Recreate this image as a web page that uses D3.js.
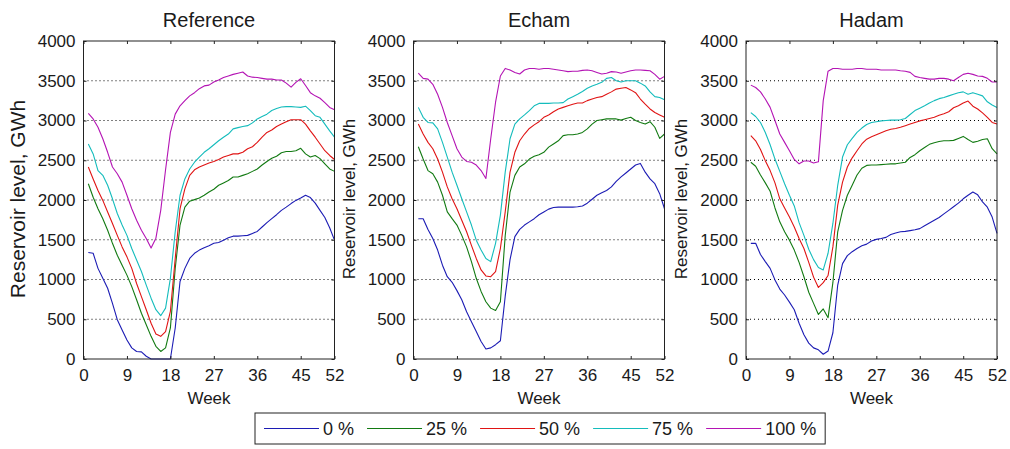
<!DOCTYPE html>
<html>
<head>
<meta charset="utf-8">
<script src="https://cdn.jsdelivr.net/npm/d3@7"></script>
<style>
  body { margin: 0; background: #fff; }
  text { font-family: "Liberation Sans", Arial, sans-serif; fill: #1a1a1a; }
</style>
</head>
<body>
<div id="chart"></div>
<script>
"use strict";

// weeks 1..52
const weeks = d3.range(1, 53);
const xTicks = [0, 9, 18, 27, 36, 45, 52];
const yTicks = [0, 500, 1000, 1500, 2000, 2500, 3000, 3500, 4000];
const gridValues = [500, 1000, 1500, 2000, 2500, 3000, 3500];
const panelTitles = ["Reference", "Echam", "Hadam"];
const seriesNames = ["0 %", "25 %", "50 %", "75 %", "100 %"];
const seriesColors = ["#1c1cb4", "#127a12", "#e01414", "#14bcbc", "#b414b4"];

// Reference
const refP0 = [1340, 1330, 1140, 1015, 890, 700, 495, 365, 240, 140,
  95, 90, 35, 0, 0, 0, 0, 0, 390, 975,
  1140, 1265, 1330, 1370, 1400, 1425, 1455, 1465, 1495, 1525,
  1545, 1545, 1550, 1555, 1580, 1605, 1660, 1715, 1765, 1815,
  1870, 1910, 1955, 1995, 2025, 2060, 2030, 1960, 1870, 1780, 1650, 1495];
const refP25 = [2205, 2035, 1890, 1765, 1620, 1455, 1305, 1180, 1055, 910,
  745, 575, 430, 285, 160, 95, 140, 390, 1140, 1685,
  1910, 1985, 2005, 2025, 2060, 2100, 2135, 2185, 2215, 2245,
  2290, 2290, 2310, 2330, 2360, 2390, 2440, 2485, 2525, 2550,
  2595, 2610, 2610, 2620, 2650, 2580, 2540, 2560, 2520, 2455, 2390, 2360];
const refP50 = [2415, 2265, 2120, 1995, 1850, 1705, 1555, 1410, 1285, 1140,
  950, 785, 620, 450, 315, 285, 345, 600, 1265, 1890,
  2140, 2310, 2380, 2415, 2440, 2465, 2485, 2510, 2540, 2560,
  2580, 2580, 2600, 2645, 2670, 2725, 2790, 2850, 2880, 2925,
  2955, 2985, 3010, 3010, 3010, 2955, 2870, 2790, 2705, 2620, 2560, 2510];
const refP75 = [2705, 2580, 2370, 2310, 2185, 2015, 1830, 1685, 1555, 1390,
  1245, 1100, 930, 765, 620, 545, 640, 1015, 1600, 2060,
  2265, 2390, 2475, 2540, 2600, 2645, 2695, 2745, 2790, 2830,
  2895, 2910, 2925, 2935, 2970, 3020, 3050, 3080, 3125, 3150,
  3170, 3175, 3175, 3170, 3165, 3180, 3125, 3060, 3040, 2955, 2870, 2790];
const refP100 = [3090, 3020, 2915, 2770, 2600, 2415, 2330, 2225, 2060, 1890,
  1745, 1620, 1515, 1395, 1520, 1870, 2380, 2850, 3080, 3185,
  3250, 3310, 3350, 3400, 3435, 3445, 3485, 3510, 3540, 3560,
  3580, 3595, 3610, 3560, 3545, 3540, 3530, 3520, 3520, 3510,
  3510, 3470, 3420, 3480, 3525, 3440, 3350, 3310, 3280, 3225, 3165, 3135];

// Echam
const echP0 = [1765, 1765, 1630, 1515, 1370, 1180, 1035, 965, 860, 745,
  595, 470, 345, 220, 125, 140, 180, 230, 790, 1250,
  1540, 1630, 1685, 1725, 1765, 1815, 1850, 1885, 1905, 1910,
  1910, 1910, 1910, 1915, 1925, 1960, 2010, 2060, 2090, 2120,
  2165, 2235, 2290, 2340, 2390, 2440, 2460, 2350, 2265, 2205, 2080, 1890];
const echP25 = [2670, 2515, 2370, 2330, 2225, 2060, 1850, 1765, 1685, 1555,
  1410, 1225, 1015, 850, 720, 640, 610, 720, 1550, 2100,
  2310, 2415, 2455, 2515, 2550, 2570, 2600, 2665, 2705, 2745,
  2810, 2820, 2820, 2830, 2850, 2895, 2955, 3000, 3010, 3020,
  3020, 3020, 3005, 3025, 3040, 3000, 2975, 2955, 2985, 2915, 2775, 2830];
const echP50 = [2955, 2830, 2725, 2645, 2515, 2350, 2165, 2015, 1890, 1745,
  1600, 1430, 1265, 1120, 1045, 1035, 1100, 1390, 1850, 2350,
  2600, 2745, 2830, 2900, 2945, 2985, 3040, 3070, 3110, 3145,
  3165, 3185, 3205, 3220, 3220, 3250, 3270, 3290, 3300, 3330,
  3360, 3395, 3405, 3415, 3385, 3350, 3270, 3205, 3145, 3100, 3070, 3040];
const echP75 = [3165, 3040, 2975, 2970, 2895, 2725, 2540, 2350, 2185, 2015,
  1850, 1685, 1495, 1370, 1265, 1225, 1455, 1810, 2350, 2770,
  2955, 3020, 3070, 3125, 3185, 3215, 3215, 3215, 3220, 3220,
  3225, 3270, 3300, 3330, 3365, 3405, 3435, 3455, 3480, 3530,
  3540, 3500, 3485, 3500, 3500, 3500, 3470, 3435, 3360, 3300, 3290, 3260];
const echP100 = [3595, 3530, 3520, 3455, 3330, 3165, 2975, 2810, 2645, 2540,
  2485, 2475, 2440, 2370, 2270, 2770, 3230, 3560, 3655, 3635,
  3605, 3585, 3635, 3655, 3655, 3645, 3655, 3655, 3645, 3635,
  3625, 3615, 3620, 3620, 3630, 3635, 3625, 3605, 3585, 3595,
  3615, 3610, 3595, 3610, 3625, 3635, 3635, 3630, 3625, 3580, 3520, 3555];

// Hadam
const hadP0 = [1455, 1455, 1315, 1225, 1140, 995, 880, 805, 715, 620,
  450, 305, 200, 140, 115, 60, 100, 330, 930, 1200,
  1300, 1350, 1390, 1425, 1445, 1485, 1505, 1515, 1530, 1565,
  1585, 1600, 1605, 1615, 1625, 1640, 1675, 1710, 1745, 1780,
  1825, 1870, 1915, 1960, 2015, 2060, 2100, 2065, 1975, 1910, 1785, 1580];
const hadP25 = [2475, 2425, 2315, 2215, 2110, 1900, 1725, 1600, 1495, 1370,
  1215, 1035, 840, 700, 560, 630, 520, 960, 1600, 1870,
  2060, 2185, 2315, 2400, 2435, 2440, 2440, 2445, 2450, 2455,
  2455, 2465, 2475, 2535, 2570, 2620, 2660, 2700, 2720, 2735,
  2745, 2745, 2750, 2775, 2800, 2760, 2725, 2740, 2760, 2770, 2645, 2580];
const hadP50 = [2810, 2745, 2635, 2495, 2370, 2215, 2015, 1900, 1785, 1660,
  1515, 1390, 1215, 1030, 900, 960, 1050, 1410, 1935, 2225,
  2415, 2530, 2620, 2705, 2765, 2795, 2820, 2845, 2870, 2890,
  2900, 2915, 2935, 2955, 2975, 2995, 3010, 3025, 3040, 3065,
  3085, 3110, 3160, 3185, 3220, 3245, 3180, 3145, 3095, 3040, 2975, 2955];
const hadP75 = [3100, 3050, 2975, 2850, 2695, 2515, 2360, 2205, 2060, 1925,
  1715, 1555, 1380, 1250, 1150, 1120, 1330, 1705, 2185, 2540,
  2695, 2775, 2850, 2905, 2950, 2975, 2985, 2995, 3000, 3005,
  3005, 3010, 3025, 3075, 3125, 3155, 3185, 3220, 3250, 3275,
  3290, 3310, 3330, 3350, 3360, 3330, 3350, 3330, 3310, 3235, 3195, 3165];
const hadP100 = [3445, 3415, 3360, 3270, 3165, 3000, 2830, 2725, 2620, 2510,
  2455, 2490, 2490, 2465, 2480, 3250, 3620, 3655, 3655, 3645,
  3645, 3645, 3655, 3655, 3645, 3645, 3645, 3635, 3635, 3635,
  3635, 3625, 3620, 3605, 3555, 3540, 3530, 3520, 3520, 3530,
  3530, 3520, 3500, 3540, 3580, 3595, 3580, 3560, 3555, 3530, 3485, 3485];

const panelSeries = [
  [refP0, refP25, refP50, refP75, refP100],
  [echP0, echP25, echP50, echP75, echP100],
  [hadP0, hadP25, hadP50, hadP75, hadP100]
];

// layout
const svgWidth = 1010, svgHeight = 449;
const panelLeft = [83.5, 413.5, 746];
const panelWidth = 251;
const plotTop = 41, plotBottom = 359;
const yLabelSize = [21, 17, 17];
const fontSize = 17;

const svg = d3.select("#chart").append("svg")
  .attr("width", svgWidth)
  .attr("height", svgHeight);

svg.append("rect").attr("width", svgWidth).attr("height", svgHeight).attr("fill", "#fff");

const y = d3.scaleLinear().domain([0, 4000]).range([plotBottom, plotTop]);

panelSeries.forEach(function (series, p) {
  const x0 = panelLeft[p], x1 = x0 + panelWidth;
  const x = d3.scaleLinear().domain([0, 52]).range([x0, x1]);
  const g = svg.append("g");

  // dotted grid
  g.selectAll(".grid")
    .data(gridValues)
    .enter().append("line")
    .attr("x1", x0).attr("x2", x1)
    .attr("y1", d => y(d)).attr("y2", d => y(d))
    .attr("stroke", "#000")
    .attr("stroke-width", 1)
    .attr("stroke-dasharray", "1,3");

  // curves
  const line = d3.line()
    .x((d, i) => x(weeks[i]))
    .y(d => y(d));

  g.selectAll(".curve")
    .data(series)
    .enter().append("path")
    .attr("d", line)
    .attr("fill", "none")
    .attr("stroke", (d, i) => seriesColors[i])
    .attr("stroke-width", 1.1)
    .attr("stroke-linejoin", "round");

  // axes, ticks pointing inward
  const axL = g.append("g").attr("transform", "translate(" + x0 + ",0)")
    .call(d3.axisLeft(y).tickValues(yTicks).tickFormat(d3.format("d"))
      .tickSize(-3).tickPadding(8).tickSizeOuter(0));
  const axR = g.append("g").attr("transform", "translate(" + x1 + ",0)")
    .call(d3.axisRight(y).tickValues(yTicks).tickSize(-3).tickFormat("").tickSizeOuter(0));
  const axB = g.append("g").attr("transform", "translate(0," + plotBottom + ")")
    .call(d3.axisBottom(x).tickValues(xTicks).tickFormat(d3.format("d"))
      .tickSize(-3).tickPadding(10).tickSizeOuter(0));
  const axT = g.append("g").attr("transform", "translate(0," + plotTop + ")")
    .call(d3.axisTop(x).tickValues(xTicks).tickSize(-3).tickFormat("").tickSizeOuter(0));

  [axL, axR, axB, axT].forEach(function (a) {
    a.select(".domain").remove();
    a.selectAll("line").attr("stroke", "#222");
    a.selectAll("text")
      .attr("fill", "#1a1a1a")
      .style("font-size", fontSize + "px")
      .style("font-family", "'Liberation Sans', Arial, sans-serif");
  });

  // box
  g.append("rect")
    .attr("x", x0).attr("y", plotTop)
    .attr("width", panelWidth).attr("height", plotBottom - plotTop)
    .attr("fill", "none")
    .attr("stroke", "#222")
    .attr("stroke-width", 1);

  // title
  g.append("text")
    .attr("x", (x0 + x1) / 2).attr("y", 27)
    .attr("text-anchor", "middle")
    .style("font-size", "20px")
    .text(panelTitles[p]);

  // x label
  g.append("text")
    .attr("x", (x0 + x1) / 2).attr("y", 404)
    .attr("text-anchor", "middle")
    .style("font-size", fontSize + "px")
    .text("Week");

  // y label
  g.append("text")
    .attr("transform", "translate(" + (x0 - 59) + ",199) rotate(-90)")
    .attr("text-anchor", "middle")
    .style("font-size", yLabelSize[p] + "px")
    .text("Reservoir level, GWh");
});

// legend
const legendLeft = 255, legendTop = 413, legendHeight = 31;
const lineLen = 55;
const legend = svg.append("g");
const legendBox = legend.append("rect")
  .attr("x", legendLeft).attr("y", legendTop)
  .attr("height", legendHeight)
  .attr("fill", "#fff")
  .attr("stroke", "#222")
  .attr("stroke-width", 1);

let cursor = legendLeft + 9;
seriesNames.forEach(function (name, i) {
  const cy = legendTop + legendHeight / 2;
  legend.append("line")
    .attr("x1", cursor).attr("x2", cursor + lineLen)
    .attr("y1", cy).attr("y2", cy)
    .attr("stroke", seriesColors[i])
    .attr("stroke-width", 1.1);
  const t = legend.append("text")
    .attr("x", cursor + lineLen + 4)
    .attr("y", cy + 6.5)
    .style("font-size", "18px")
    .text(name);
  cursor += lineLen + 4 + t.node().getComputedTextLength() + 13;
});
legendBox.attr("width", cursor - legendLeft - 4);
</script>
</body>
</html>
